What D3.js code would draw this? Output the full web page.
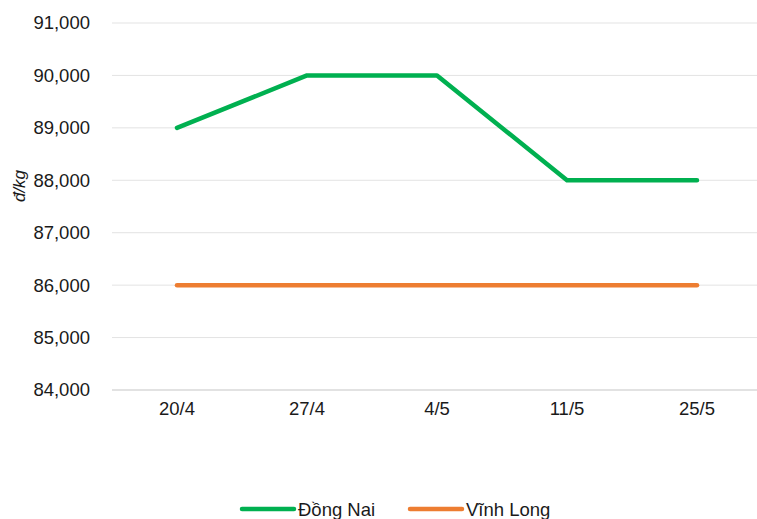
<!DOCTYPE html>
<html><head><meta charset="utf-8">
<script src="https://cdn.jsdelivr.net/npm/d3@7"></script>
<style>body{margin:0;background:#fff;} text{font-family:"Liberation Sans",Arial,sans-serif;}</style>
</head><body>
<svg id="c" width="757" height="519"></svg>
<script>
const categories = ["20/4","27/4","4/5","11/5","25/5"];
const dongNai = [89000,90000,90000,88000,88000];
const vinhLong = [86000,86000,86000,86000,86000];
const yTicks = [84000,85000,86000,87000,88000,89000,90000,91000];
const seriesNames = ["Đồng Nai","Vĩnh Long"];
const colors = ["#00B050","#ED7D31"];

const FS = "18.5px";
const svg = d3.select("#c");
const x = d3.scaleBand().domain(categories).range([112,762]);
const y = d3.scaleLinear().domain([84000,91000]).range([390,23]);
const fmt = d3.format(",");

svg.append("g").selectAll("line").data(yTicks.filter(t=>t>84000)).join("line")
  .attr("x1",112).attr("x2",757).attr("y1",d=>y(d)).attr("y2",d=>y(d))
  .attr("stroke","#e3e3e3").attr("stroke-width",1);
svg.append("line").attr("x1",112).attr("x2",757).attr("y1",y(84000)).attr("y2",y(84000))
  .attr("stroke","#d9d9d9").attr("stroke-width",1.5);

const yAxis = d3.axisLeft(y).tickValues(yTicks).tickFormat(fmt).tickSize(0).tickPadding(0);
const gy = svg.append("g").attr("transform","translate(90,0)").call(yAxis);
gy.select(".domain").remove();
gy.selectAll("text").attr("font-size",FS).attr("fill","#1a1a1a").attr("font-family","Liberation Sans, Arial, sans-serif");

const xAxis = d3.axisBottom(x).tickSize(0).tickPadding(0);
const gx = svg.append("g").attr("transform","translate(0,402)").call(xAxis);
gx.select(".domain").remove();
gx.selectAll("text").attr("font-size",FS).attr("fill","#1a1a1a").attr("font-family","Liberation Sans, Arial, sans-serif");

svg.append("text").attr("transform","translate(25,186) rotate(-90)").attr("text-anchor","middle")
  .attr("font-size","17px").attr("font-style","italic").attr("fill","#1a1a1a").text("đ/kg");

const line = d3.line().x((d,i)=>x(categories[i])+x.bandwidth()/2).y(d=>y(d));
[dongNai,vinhLong].forEach((s,i)=>{
  svg.append("path").datum(s).attr("d",line).attr("fill","none")
    .attr("stroke",colors[i]).attr("stroke-width",4.5).attr("stroke-linejoin","round").attr("stroke-linecap","round");
});

const lg = [{x:242,name:seriesNames[0],c:colors[0]},{x:410,name:seriesNames[1],c:colors[1]}];
lg.forEach(l=>{
  svg.append("line").attr("x1",l.x).attr("x2",l.x+52).attr("y1",509).attr("y2",509)
    .attr("stroke",l.c).attr("stroke-width",4.5).attr("stroke-linecap","round");
  svg.append("text").attr("x",l.x+56).attr("y",516).attr("font-size",FS).attr("fill","#1a1a1a").text(l.name);
});
</script>
</body></html>
